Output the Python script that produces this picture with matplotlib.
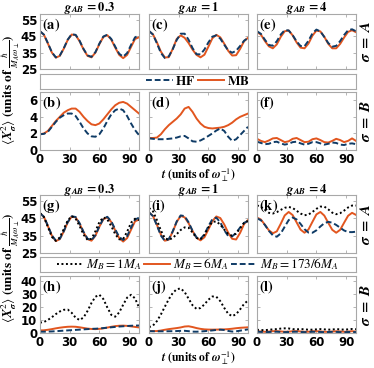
import matplotlib
matplotlib.use("Agg")
import matplotlib.pyplot as plt
from matplotlib.lines import Line2D

plt.rcParams['font.family'] = 'DejaVu Sans'
plt.rcParams['mathtext.fontset'] = 'stix'

# sample times (units of 1/omega_perp)
t = [0, 4, 8, 12, 16, 20, 24, 28, 32, 36, 40, 44, 48, 52, 56, 60, 64, 68, 72, 76, 80, 84, 88, 92, 96, 100]

# ---- top block: HF vs MB ----
a_hf = [48, 45.9, 40.7, 35.2, 32.1, 33.2, 37.6, 42.9, 46.2, 45.8, 42.2, 37.2, 33.3, 32.4, 35.3, 40.5, 44.8, 45.9, 43.3, 38.6, 34.3, 32.5, 34.7, 39.7, 44.3, 45.4]
a_mb = [48, 45.8, 40.5, 35.0, 31.9, 33.0, 37.4, 42.7, 46.0, 45.6, 41.9, 36.9, 33.0, 32.1, 35.0, 40.2, 44.5, 45.6, 42.9, 38.0, 33.6, 31.6, 33.6, 38.5, 43.3, 44.3]
b_hf = [1.9, 1.95, 2.2, 2.8, 3.4, 3.9, 4.2, 4.4, 4.4, 4.1, 3.4, 2.6, 2.0, 1.65, 1.6, 1.9, 2.6, 3.5, 4.3, 4.8, 5.0, 4.8, 4.1, 3.2, 2.4, 1.8]
b_mb = [1.9, 2.0, 2.3, 2.9, 3.5, 4.0, 4.5, 4.8, 5.0, 5.0, 4.6, 4.0, 3.5, 3.1, 3.0, 3.2, 3.7, 4.3, 4.9, 5.4, 5.7, 5.8, 5.6, 5.2, 4.8, 4.4]
c_hf = [48.2, 46.0, 40.6, 34.8, 31.7, 32.7, 37.1, 42.7, 46.5, 46.5, 42.8, 37.7, 34.0, 33.9, 36.9, 41.2, 44.7, 45.5, 43.5, 39.8, 36.3, 34.9, 36.1, 39.0, 42.2, 43.9]
c_mb = [48, 46.1, 41.2, 35.6, 32.0, 32.2, 37.3, 43.3, 45.5, 44.0, 40.8, 36.8, 33.6, 32.1, 33.7, 38.6, 43.7, 45.8, 44.3, 40.4, 36.1, 33.2, 33.4, 37.2, 41.9, 44.0]
d_hf = [1.4, 1.35, 1.3, 1.3, 1.3, 1.35, 1.4, 1.5, 1.65, 1.7, 1.4, 1.05, 1.0, 1.15, 1.4, 1.7, 2.0, 2.35, 2.6, 2.3, 1.6, 1.1, 1.3, 1.8, 2.3, 2.8]
d_mb = [1.45, 1.45, 1.5, 1.9, 2.5, 3.0, 3.4, 3.8, 4.3, 5.0, 5.2, 4.6, 3.8, 3.2, 2.8, 2.65, 2.6, 2.65, 2.7, 2.8, 3.0, 3.3, 3.7, 4.0, 4.2, 4.4]
e_hf = [48, 46.4, 42.8, 39.6, 39.2, 41.9, 46.0, 48.7, 48.5, 45.6, 41.8, 39.0, 38.9, 42.2, 46.7, 49.0, 47.9, 44.5, 40.8, 38.6, 39.1, 42.0, 45.7, 48.6, 49.2, 48.0]
e_mb = [47.6, 45.9, 42.0, 38.8, 37.6, 40.0, 44.6, 48.0, 48.4, 45.5, 41.2, 38.0, 37.6, 40.5, 45.3, 48.4, 47.9, 44.6, 40.3, 37.6, 37.6, 40.3, 44.2, 47.6, 48.6, 47.4]
f_hf = [1.0, 0.85, 0.7, 0.75, 0.95, 1.0, 0.8, 0.65, 0.75, 0.95, 1.0, 0.8, 0.65, 0.75, 0.95, 0.95, 0.8, 0.65, 0.75, 0.9, 0.85, 0.65, 0.6, 0.75, 0.8, 0.7]
f_mb = [1.35, 1.1, 0.95, 1.15, 1.4, 1.45, 1.2, 0.95, 1.05, 1.35, 1.45, 1.2, 0.95, 1.0, 1.3, 1.4, 1.2, 0.95, 0.9, 1.1, 1.35, 1.2, 0.95, 1.1, 1.4, 1.1]

# ---- bottom block: M_B = 1, 6, 173/6 M_A ----
g_m1 = [48, 45.7, 40.0, 34.3, 32.0, 34.0, 38.8, 43.8, 46.3, 44.9, 40.6, 35.6, 32.6, 33.2, 37.6, 42.9, 45.6, 44.4, 40.5, 35.9, 32.9, 33.1, 37.3, 42.5, 44.8, 44.0]
g_m6 = [48, 45.8, 40.5, 35.0, 31.9, 33.0, 37.4, 42.7, 46.0, 45.6, 41.9, 36.9, 33.0, 32.1, 35.0, 40.2, 44.5, 45.6, 42.9, 38.0, 33.6, 31.6, 33.6, 38.5, 43.3, 44.3]
g_m173 = [48, 45.9, 40.7, 35.2, 32.1, 33.2, 37.6, 42.9, 46.2, 45.8, 42.2, 37.2, 33.3, 32.4, 35.3, 40.5, 44.8, 45.9, 43.3, 38.6, 34.3, 32.5, 34.7, 39.7, 44.3, 45.4]
h_m1 = [8, 8.5, 10.1, 12.2, 14.6, 16.6, 17.9, 18.1, 15.6, 11.8, 10.0, 12.0, 17.0, 23.2, 28.0, 29.5, 26.2, 19.7, 14.0, 12.6, 15.9, 21.8, 27.3, 29.5, 26.7, 19.8]
h_m6 = [2.0, 2.1, 2.5, 3.0, 3.6, 4.1, 4.5, 4.8, 4.9, 4.8, 4.4, 3.9, 3.4, 3.1, 3.0, 3.2, 3.6, 4.2, 4.8, 5.3, 5.6, 5.7, 5.5, 5.1, 4.7, 4.3]
h_m173 = [1.0, 1.0, 1.1, 1.2, 1.4, 1.6, 1.8, 2.0, 2.2, 2.4, 2.6, 2.8, 3.0, 3.2, 3.3, 3.5, 3.8, 4.1, 4.4, 4.7, 5.0, 5.2, 5.4, 5.6, 5.7, 5.8]
i_m1 = [51, 49.1, 44.0, 38.0, 33.6, 32.6, 33.7, 35.9, 38.3, 39.8, 39.6, 36.8, 33.7, 32.9, 35.5, 39.8, 43.0, 43.2, 41.4, 38.5, 36.0, 35.0, 36.2, 39.3, 42.3, 43.5]
i_m6 = [48.5, 46.4, 41.3, 35.6, 32.1, 32.7, 37.3, 43.0, 46.4, 45.6, 42.2, 37.7, 33.8, 32.3, 34.1, 38.6, 43.4, 46.1, 45.2, 41.5, 36.7, 33.2, 32.8, 36.6, 41.7, 44.0]
i_m173 = [48.5, 46.3, 40.9, 35.1, 32.0, 33.0, 37.6, 43.2, 46.7, 46.3, 42.7, 37.8, 34.0, 33.1, 35.8, 40.5, 44.5, 45.4, 42.7, 38.2, 34.8, 34.6, 36.6, 39.7, 42.4, 43.5]
j_m1 = [4.5, 5.7, 9.2, 14.3, 20.3, 26.1, 30.9, 33.8, 34.4, 31.6, 26.5, 21.4, 18.6, 19.3, 22.1, 25.7, 28.2, 28.0, 24.6, 19.4, 14.8, 13.0, 14.5, 18.2, 22.4, 25.1]
j_m6 = [1.45, 1.45, 1.5, 1.9, 2.5, 3.0, 3.4, 3.8, 4.3, 5.0, 5.2, 4.6, 3.8, 3.2, 2.8, 2.65, 2.6, 2.65, 2.7, 2.8, 3.0, 3.3, 3.7, 4.0, 4.2, 4.4]
j_m173 = [1.4, 1.35, 1.3, 1.3, 1.3, 1.35, 1.4, 1.5, 1.65, 1.7, 1.4, 1.05, 1.0, 1.15, 1.4, 1.7, 2.0, 2.35, 2.6, 2.3, 1.6, 1.1, 1.3, 1.8, 2.3, 2.8]
k_m1 = [52.5, 51.7, 49.9, 48.2, 47.8, 48.6, 49.9, 51.1, 51.6, 51.0, 49.4, 47.8, 46.8, 47.2, 48.7, 50.5, 51.8, 51.8, 50.2, 48.3, 47.4, 48.0, 49.5, 51.3, 52.4, 52.4]
k_m6 = [45.5, 44.3, 41.3, 38.1, 36.4, 37.5, 41.9, 46.7, 48.7, 46.9, 42.7, 38.5, 36.7, 38.6, 43.0, 47.3, 48.7, 46.6, 42.4, 38.4, 36.7, 38.4, 42.5, 46.5, 48.2, 47.0]
k_m173 = [45, 43.9, 41.2, 37.8, 35.2, 34.4, 36.3, 40.2, 44.0, 45.5, 44.4, 41.8, 38.75, 36.8, 36.7, 38.1, 40.3, 42.2, 43.0, 42.5, 41.2, 39.6, 38.0, 37.1, 37.05, 37.3]
l_m1 = [2.5, 2.3, 2.2, 2.5, 2.8, 3.0, 3.4, 3.6, 3.5, 3.0, 2.8, 3.0, 2.9, 2.5, 2.6, 2.8, 3.0, 2.8, 2.6, 2.7, 3.0, 2.8, 2.6, 2.8, 3.1, 2.9]
l_m6 = [1.35, 1.1, 0.95, 1.15, 1.4, 1.45, 1.2, 0.95, 1.05, 1.35, 1.45, 1.2, 0.95, 1.0, 1.3, 1.4, 1.2, 0.95, 0.9, 1.1, 1.35, 1.2, 0.95, 1.1, 1.4, 1.1]
l_m173 = [1.0, 0.85, 0.7, 0.75, 0.95, 1.0, 0.8, 0.65, 0.75, 0.95, 1.0, 0.8, 0.65, 0.75, 0.95, 0.95, 0.8, 0.65, 0.75, 0.9, 0.85, 0.65, 0.6, 0.75, 0.8, 0.7]

titles = [r'$\mathbfit{g}_{\mathbfit{AB}}\,\mathbf{=0.3}$', r'$\mathbfit{g}_{\mathbfit{AB}}\,\mathbf{=1}$', r'$\mathbfit{g}_{\mathbfit{AB}}\,\mathbf{=4}$']

navy = '#0f3b66'
orange = '#e2561f'
gray = '#a8a8a8'

W, H = 374, 368
fig = plt.figure(figsize=(W / 100, H / 100), dpi=100)


def add_ax(left, top, w, h):
    return fig.add_axes([left / W, 1 - (top + h) / H, w / W, h / H])


def style(ax, ylim, yticks, show_y, show_x):
    ax.set_xlim(0, 100)
    ax.set_ylim(*ylim)
    ax.set_xticks([0, 30, 60, 90])
    ax.set_yticks(yticks)
    ax.tick_params(direction='in', length=2.5, width=0.6, color=gray, top=True, right=True,
                   labelsize=8.5, pad=2)
    if not show_y:
        ax.set_yticklabels([])
    if not show_x:
        ax.set_xticklabels([])
    for lbl in ax.get_xticklabels() + ax.get_yticklabels():
        lbl.set_fontweight('bold')
    for s in ax.spines.values():
        s.set_color(gray)
        s.set_linewidth(0.8)


def panel_label(ax, txt):
    ax.text(0.025, 0.96, r'$\mathbf{(' + txt + ')}$', transform=ax.transAxes,
            ha='left', va='top', fontsize=10.5)


def legend_box(top):
    lax = add_ax(40, top, 316, 15)
    lax.set_xticks([])
    lax.set_yticks([])
    for s in lax.spines.values():
        s.set_color(gray)
        s.set_linewidth(0.8)
    return lax


cols = [40, 149, 257]
pw = 99
dash = (0, (3, 1.5))
dots = (0, (1, 1.3))

# top block
top_A = [(a_hf, a_mb), (c_hf, c_mb), (e_hf, e_mb)]
top_B = [(b_hf, b_mb), (d_hf, d_mb), (f_hf, f_mb)]
labA = ['a', 'c', 'e']
labB = ['b', 'd', 'f']
for c in range(3):
    ax = add_ax(cols[c], 14, pw, 55)
    hf, mb = top_A[c]
    ax.plot(t, mb, color=orange, lw=1.4)
    ax.plot(t, hf, color=navy, lw=1.4, ls=dash)
    style(ax, (25, 58.5), [25, 35, 45, 55], c == 0, False)
    fig.text((cols[c] + pw / 2) / W, 1 - 8 / H, titles[c], ha='center', va='center', fontsize=9)
    panel_label(ax, labA[c])

    ax = add_ax(cols[c], 92, pw, 58)
    hf, mb = top_B[c]
    ax.plot(t, mb, color=orange, lw=1.4)
    ax.plot(t, hf, color=navy, lw=1.4, ls=dash)
    style(ax, (0, 7), [0, 2, 4, 6], c == 0, True)
    panel_label(ax, labB[c])

lax = legend_box(74)
h1 = [Line2D([], [], color=navy, lw=1.4, ls=dash), Line2D([], [], color=orange, lw=1.4)]
lax.legend(h1, [r'$\mathbf{HF}$', r'$\mathbf{MB}$'], loc='center', ncol=2, frameon=False,
           fontsize=9.5, handlelength=2.0, handletextpad=0.2, columnspacing=0.2,
           borderpad=0, borderaxespad=0)

# bottom block
bot_A = [(g_m1, g_m6, g_m173), (i_m1, i_m6, i_m173), (k_m1, k_m6, k_m173)]
bot_B = [(h_m1, h_m6, h_m173), (j_m1, j_m6, j_m173), (l_m1, l_m6, l_m173)]
labA = ['g', 'i', 'k']
labB = ['h', 'j', 'l']
for c in range(3):
    ax = add_ax(cols[c], 195, pw, 58)
    m1, m6, m173 = bot_A[c]
    ax.plot(t, m6, color=orange, lw=1.4)
    ax.plot(t, m173, color=navy, lw=1.4, ls=dash)
    ax.plot(t, m1, color='black', lw=1.4, ls=dots)
    style(ax, (25, 58.5), [25, 35, 45, 55], c == 0, False)
    fig.text((cols[c] + pw / 2) / W, 1 - 190 / H, titles[c], ha='center', va='center', fontsize=9)
    panel_label(ax, labA[c])

    ax = add_ax(cols[c], 276, pw, 57)
    m1, m6, m173 = bot_B[c]
    ax.plot(t, m6, color=orange, lw=1.4)
    ax.plot(t, m173, color=navy, lw=1.4, ls=dash)
    ax.plot(t, m1, color='black', lw=1.4, ls=dots)
    style(ax, (0, 44), [0, 10, 20, 30, 40], c == 0, True)
    panel_label(ax, labB[c])

lax = legend_box(257)
h2 = [Line2D([], [], color='black', lw=1.4, ls=dots),
      Line2D([], [], color=orange, lw=1.4),
      Line2D([], [], color=navy, lw=1.4, ls=dash)]
lax.legend(h2, [r'$M_B=1M_A$', r'$M_B=6M_A$', r'$M_B=173/6M_A$'], loc='center', ncol=3,
           frameon=False, fontsize=9.5, handlelength=2.0, handletextpad=0.2, columnspacing=0.2,
           borderpad=0, borderaxespad=0)

# shared labels
ylab = r'$\langle \mathbfit{X}_{\mathbfit{\sigma}}^{2}\rangle\ \mathbf{(units\ of\ }\frac{\hbar}{M_A\omega_\perp}\mathbf{)}$'
fig.text(11 / W, 1 - 90 / H, ylab, rotation=90, ha='center', va='center', fontsize=9.5)
fig.text(11 / W, 1 - 268 / H, ylab, rotation=90, ha='center', va='center', fontsize=9.5)

xlab = r'$\mathbfit{t}\ \mathbf{(units\ of\ }\mathbfit{\omega}_{\perp}^{-1}\mathbf{)}$'
fig.text(198 / W, 1 - 175 / H, xlab, ha='center', va='center', fontsize=8.5)
fig.text(198 / W, 1 - 358 / H, xlab, ha='center', va='center', fontsize=8.5)

sigA = r'$\mathbfit{\sigma}\ \mathbf{=}\ \mathbfit{A}$'
sigB = r'$\mathbfit{\sigma}\ \mathbf{=}\ \mathbfit{B}$'
for yc, s in [(41.5, sigA), (121, sigB), (224, sigA), (304.5, sigB)]:
    fig.text(366 / W, 1 - yc / H, s, rotation=90, ha='center', va='center', fontsize=11)

fig.savefig('out.png', dpi=100)
